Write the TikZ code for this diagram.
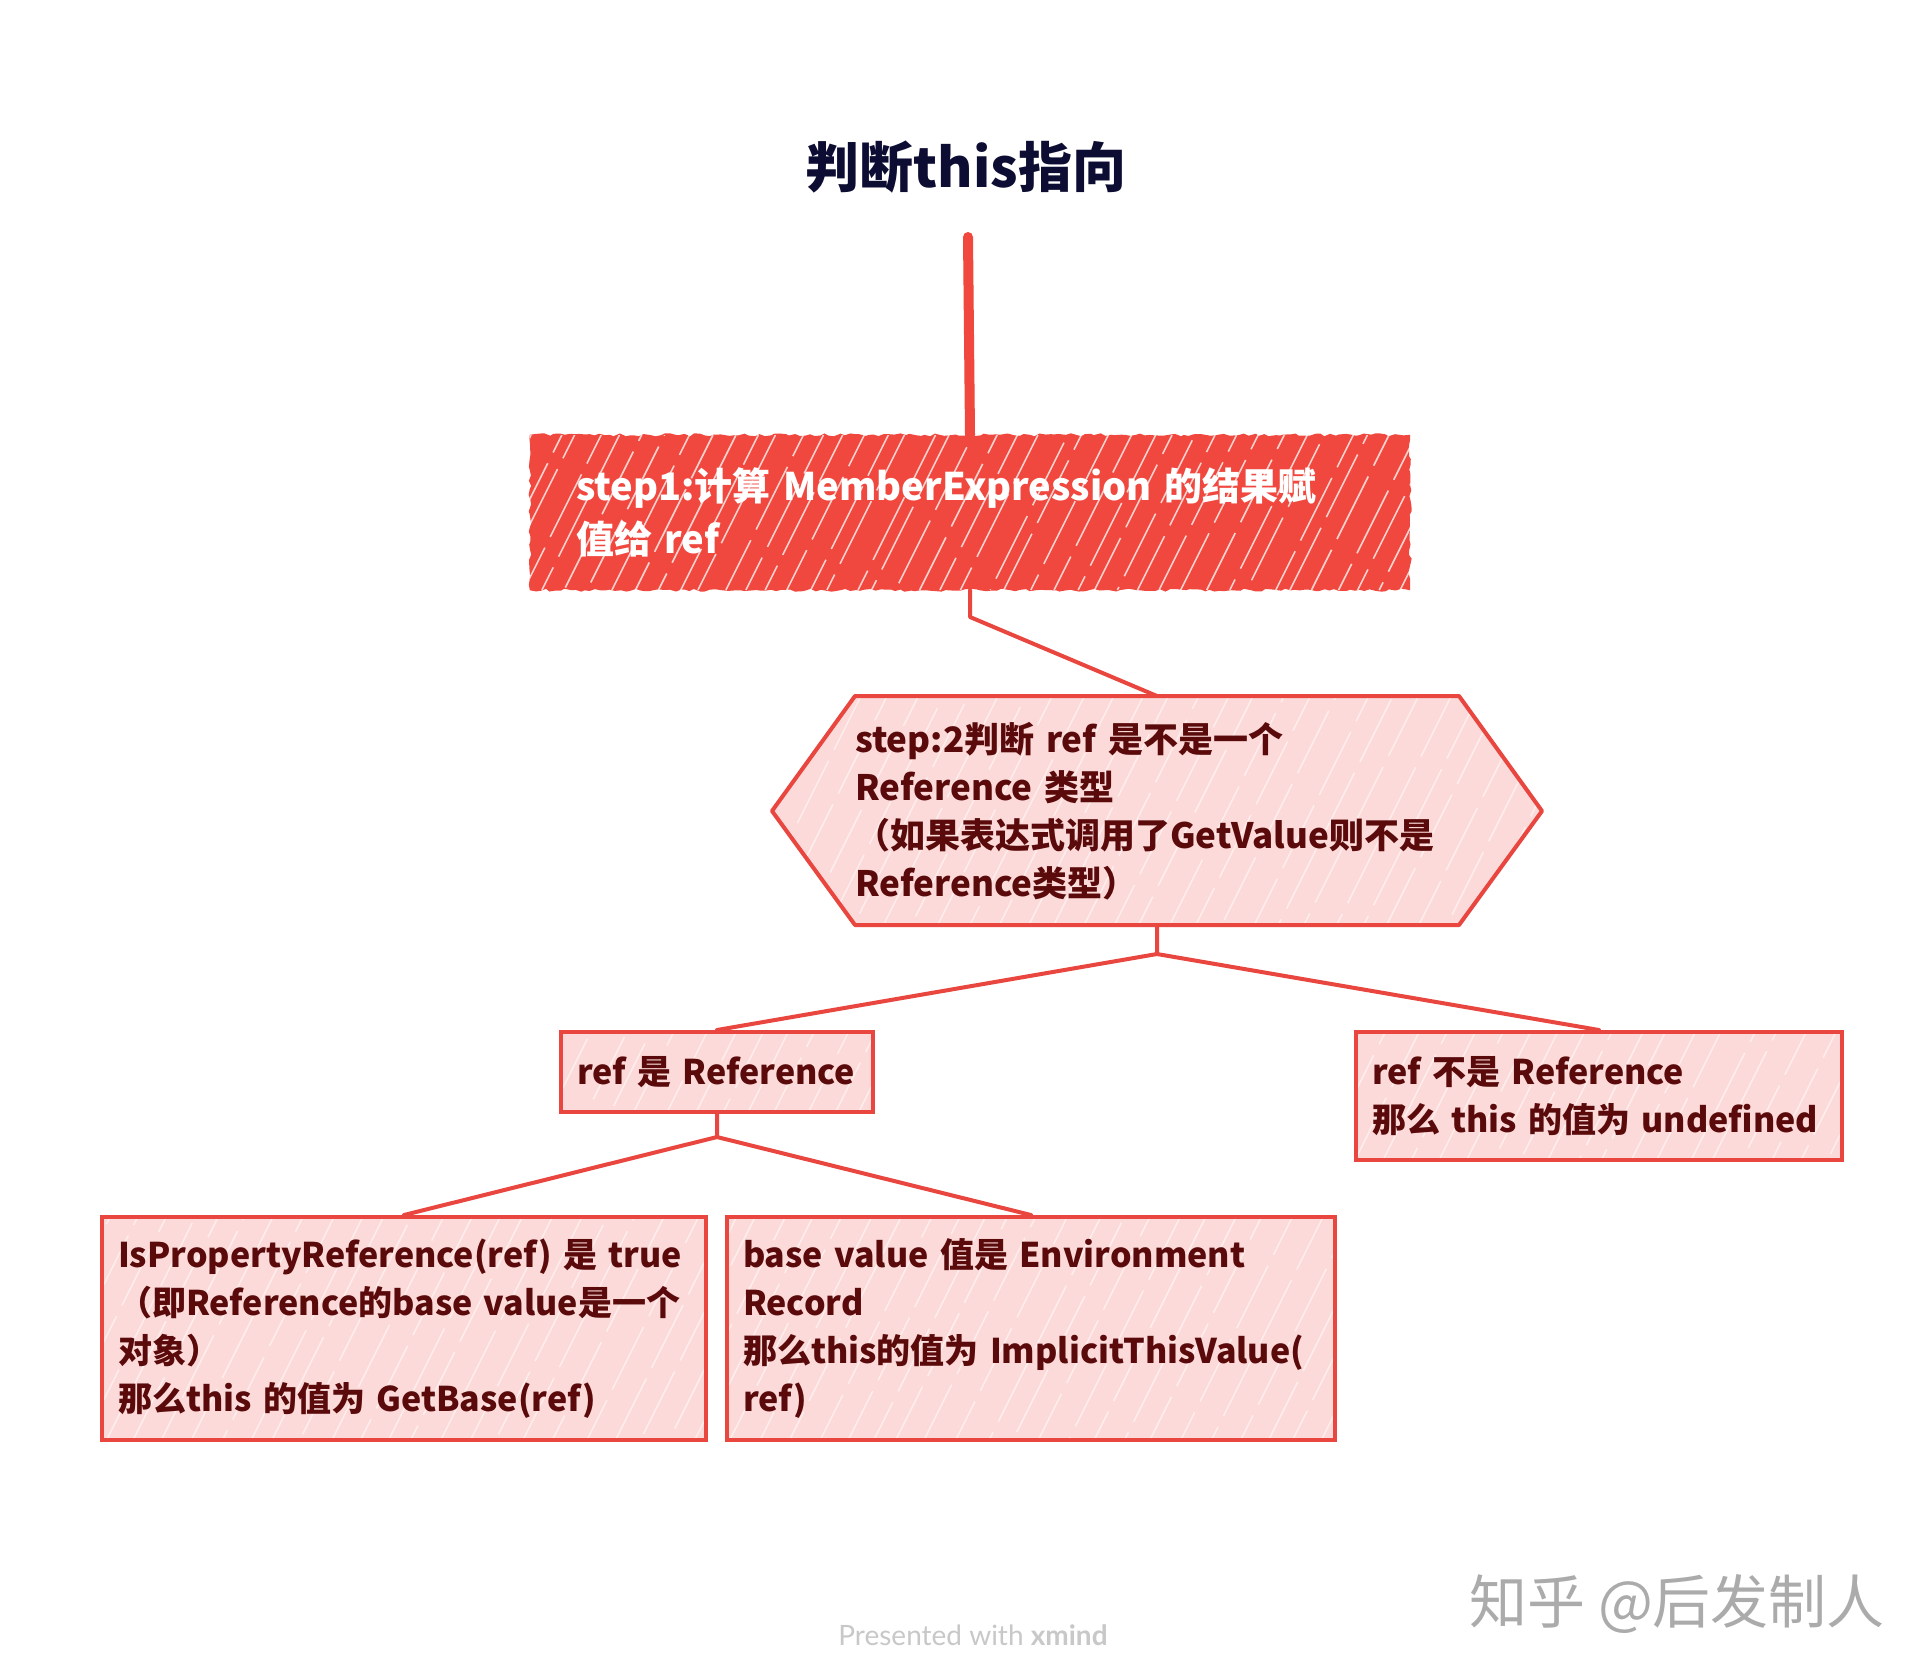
\documentclass[tikz,border=0pt]{standalone}
\usepackage{fontspec}
\setmainfont{Noto Sans CJK SC}
\newfontfamily\latofont{Lato}
\usetikzlibrary{decorations.pathmorphing}
\pgfdeclarelayer{base}\pgfdeclarelayer{bg}\pgfdeclarelayer{hatch}\pgfsetlayers{base,bg,hatch,main}
\definecolor{redmain}{HTML}{F0483E}
\definecolor{redline}{HTML}{E8463E}
\definecolor{pinkfill}{HTML}{FCDAD9}
\definecolor{maroon}{HTML}{5A0A0A}
\definecolor{navy}{HTML}{0D0D33}
\definecolor{wmgray}{HTML}{ABABAB}
\definecolor{xgray}{HTML}{C8C8C8}
\tikzset{
  pinkbox/.style={draw=redline, line width=4pt, rectangle, inner xsep=16pt, inner ysep=0pt,
    align=left, text=maroon, font=\bfseries\fontsize{34pt}{48pt}\selectfont},
  conn/.style={draw=redline, line width=4pt, line join=round, line cap=round},
  hatchw/.style={white, line width=1.6pt, opacity=0.75},
  hatchp/.style={white, line width=1.5pt, opacity=0.55}
}
% #1..#4 = x1,y1 (top-left), x2,y2 (bottom-right); #5 = style; #6 = spacing
\newcommand\hatchbox[6]{%
  \pgfmathsetmacro\hh{#4-#2}%
  \pgfmathsetmacro\xs{#1-0.5*\hh}%
  \pgfmathtruncatemacro\nn{(#3-\xs)/#6}%
  \foreach \i in {0,...,\nn}{%
    \pgfmathsetmacro\xa{\xs+\i*#6+rnd*10}%
    \pgfmathsetmacro\ph{rnd*80}%
    \draw[#5, dash pattern=on 70pt off 12pt, dash phase=\ph pt] (\xa,#4) -- ++(0.5*\hh,-\hh);
  }}
\begin{document}
\begin{tikzpicture}[x=1pt,y=-1pt]
\pgfmathsetseed{4242}
\begin{pgfonlayer}{base}
  \fill[white] (0,0) rectangle (1932,1674);
\end{pgfonlayer}
\useasboundingbox (0,0) rectangle (1932,1674);

% title
\node[font=\bfseries\fontsize{54pt}{60pt}\selectfont, text=navy] (title) at (966,167) {判断this指向};

% step 1
\node[rectangle, inner xsep=46pt, inner ysep=0pt, text width=788pt, minimum height=155pt,
  align=left, text=white, font=\bfseries\fontsize{38pt}{53pt}\selectfont] (step1) at (970,512.5)
  {\mbox{step1:计算 MemberExpression 的结果赋}\\\mbox{值给 ref}};

% step 2 hexagon
\coordinate (hL) at (772,811);
\coordinate (hTL) at (855,696);
\coordinate (hTR) at (1459,696);
\coordinate (hR) at (1542,811);
\coordinate (hBR) at (1459,925);
\coordinate (hBL) at (855,925);
\coordinate (hT) at (1157,696);
\coordinate (hB) at (1157,925);
\node[rectangle, inner sep=0pt, text width=620pt, align=left, text=maroon,
  font=\bfseries\fontsize{35pt}{48pt}\selectfont] (hex) at (1165,811)
  {\mbox{step:2判断 ref 是不是一个}\\\mbox{Reference 类型}\\\mbox{（如果表达式调用了GetValue则不是}\\\mbox{Reference类型）}};
\draw[draw=redline, line width=4pt, line join=round] (hL) -- (hTL) -- (hTR) -- (hR) -- (hBR) -- (hBL) -- cycle;

% level 3
\node[pinkbox, text width=280pt, minimum height=80pt] (refyes) at (717,1072) {\mbox{ref 是 Reference}};
\node[pinkbox, text width=454pt, minimum height=128pt] (refno) at (1599,1096)
  {\mbox{ref 不是 Reference}\\\mbox{那么 this 的值为 undefined}};

% level 4
\node[pinkbox, text width=572pt, minimum height=223pt] (bl) at (404,1328.5)
  {\mbox{IsPropertyReference(ref) 是 true}\\\mbox{（即Reference的base value是一个}\\\mbox{对象）}\\\mbox{那么this 的值为 GetBase(ref)}};
\node[pinkbox, text width=576pt, minimum height=223pt] (bm) at (1031,1328.5)
  {\mbox{base value 值是 Environment}\\\mbox{Record}\\\mbox{那么this的值为 ImplicitThisValue(}\\\mbox{ref)}};

% fills
\begin{pgfonlayer}{bg}
  \fill[redmain, decorate, decoration={random steps, segment length=5pt, amplitude=1.5pt}]
    (step1.south west) rectangle (step1.north east);
  \fill[pinkfill] (hL) -- (hTL) -- (hTR) -- (hR) -- (hBR) -- (hBL) -- cycle;
  \fill[pinkfill] (refyes.south west) rectangle (refyes.north east);
  \fill[pinkfill] (refno.south west) rectangle (refno.north east);
  \fill[pinkfill] (bl.south west) rectangle (bl.north east);
  \fill[pinkfill] (bm.south west) rectangle (bm.north east);
\end{pgfonlayer}

% hatching
\begin{pgfonlayer}{hatch}
  \begin{scope}\clip (530,435) rectangle (1410,590); \hatchbox{530}{435}{1410}{590}{hatchw}{22} \end{scope}
  \begin{scope}\clip (hL) -- (hTL) -- (hTR) -- (hR) -- (hBR) -- (hBL) -- cycle; \hatchbox{772}{696}{1542}{925}{hatchp}{28} \end{scope}
  \begin{scope}\clip (561,1032) rectangle (873,1112); \hatchbox{561}{1032}{873}{1112}{hatchp}{28} \end{scope}
  \begin{scope}\clip (1356,1032) rectangle (1842,1160); \hatchbox{1356}{1032}{1842}{1160}{hatchp}{28} \end{scope}
  \begin{scope}\clip (102,1217) rectangle (706,1440); \hatchbox{102}{1217}{706}{1440}{hatchp}{28} \end{scope}
  \begin{scope}\clip (727,1217) rectangle (1335,1440); \hatchbox{727}{1217}{1335}{1440}{hatchp}{28} \end{scope}
\end{pgfonlayer}

% connectors
\coordinate (tl) at (968,237);
\draw[redmain, line width=10pt, line cap=round] (tl) -- (step1.north);
\coordinate (j1) at (970,617);
\draw[conn] (step1.south) -- (j1) -- (hT);
\coordinate (j2) at (1157,954);
\draw[conn] (hB) -- (j2) -- (refyes.north);
\draw[conn] (j2) -- (refno.north);
\coordinate (j3) at (717,1137);
\draw[conn] (refyes.south) -- (j3) -- (bl.north);
\draw[conn] (j3) -- (bm.north);

% footer
\node[font=\fontsize{58pt}{62pt}\selectfont, text=wmgray] (wm) at (1677,1604) {知乎 @后发制人};
\node[font=\latofont\fontsize{28pt}{32pt}\selectfont, text=xgray] (pw) at (973,1635) {Presented with \textbf{xmind}};
\end{tikzpicture}
\end{document}
